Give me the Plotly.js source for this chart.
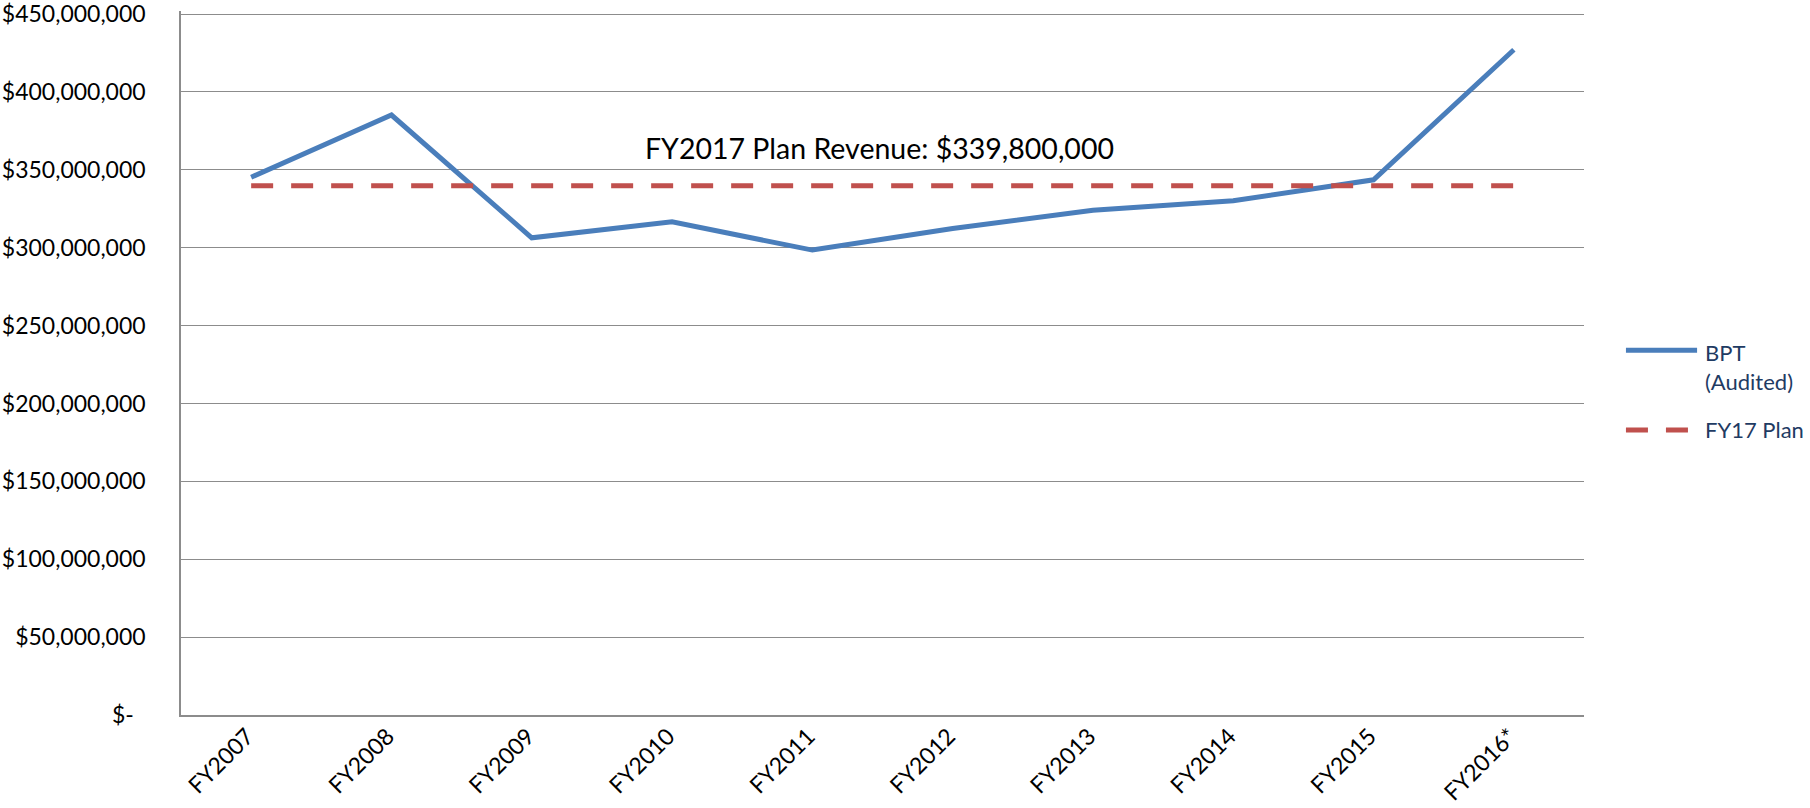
<!DOCTYPE html>
<html>
<head>
<meta charset="utf-8">
<script src="https://cdn.plot.ly/plotly-3.0.1.min.js"></script>
<style>
  html, body { margin: 0; padding: 0; background: #ffffff; }
  #chart { width: 1810px; height: 808px; }
</style>
</head>
<body>
<div id="chart"></div>
<script>
// ---- data ----
const categories = ["FY2007", "FY2008", "FY2009", "FY2010", "FY2011", "FY2012", "FY2013", "FY2014", "FY2015", "FY2016*"];
const bptAudited = [345300000, 385200000, 306400000, 316600000, 298500000, 312400000, 324000000, 330200000, 343600000, 427100000];
const fy17PlanValue = 339800000;
const fy17Plan = categories.map(() => fy17PlanValue);
const seriesNames = ["BPT<br>(Audited)", "FY17 Plan"];
const yTickVals = [0, 50000000, 100000000, 150000000, 200000000, 250000000, 300000000, 350000000, 400000000, 450000000];
const yTickText = ["$-  ", "$50,000,000", "$100,000,000", "$150,000,000", "$200,000,000", "$250,000,000", "$300,000,000", "$350,000,000", "$400,000,000", "$450,000,000"];
const annotationText = "FY2017 Plan Revenue: $339,800,000";

const FONT = "Lato, 'Open Sans', 'Noto Sans', sans-serif";
const BLUE = "#4A7EBB";
const RED = "#C0504D";
const DASH = "22px,18px";
const LEGEND_TEXT = "#1F3B63";

const traces = [
  {
    type: "scatter", mode: "lines", name: seriesNames[0],
    x: categories, y: bptAudited,
    line: { color: BLUE, width: 5 }
  },
  {
    type: "scatter", mode: "lines", name: seriesNames[1],
    x: categories, y: fy17Plan,
    line: { color: RED, width: 5, dash: DASH }
  }
];

// legend drawn as shapes + texts (paper coordinates) to match long sample lines
const legendShapes = [
  { type: "line", xref: "paper", yref: "paper", x0: 1.0299, x1: 1.0806, y0: 0.5180, y1: 0.5180,
    line: { color: BLUE, width: 5 } },
  { type: "line", xref: "paper", yref: "paper", x0: 1.0299, x1: 1.0806, y0: 0.4050, y1: 0.4050,
    line: { color: RED, width: 5, dash: DASH } }
];
const legendTexts = [
  { xref: "paper", yref: "paper", x: 1.0848, y: 0.494, xanchor: "left", yanchor: "middle", align: "left",
    text: seriesNames[0], showarrow: false, font: { family: FONT, size: 22, color: LEGEND_TEXT } },
  { xref: "paper", yref: "paper", x: 1.0848, y: 0.4050, xanchor: "left", yanchor: "middle", align: "left",
    text: seriesNames[1], showarrow: false, font: { family: FONT, size: 22, color: LEGEND_TEXT } }
];

const layout = {
  width: 1810, height: 808,
  margin: { l: 181, r: 226, t: 11, b: 93 },
  paper_bgcolor: "#ffffff", plot_bgcolor: "#ffffff",
  font: { family: FONT, color: "#000000", size: 23 },
  showlegend: false,
  xaxis: {
    type: "category", range: [-0.5, 9.5],
    showgrid: false, zeroline: false,
    showline: true, linecolor: "#8C8C8C", linewidth: 1.5,
    ticks: "", tickangle: -45,
    tickfont: { family: FONT, size: 23, color: "#000000" },
    ticklabelshift: -4, ticklabelstandoff: -3
  },
  yaxis: {
    range: [0, 452000000],
    tickvals: yTickVals, ticktext: yTickText,
    showgrid: true, gridcolor: "#8C8C8C", gridwidth: 1.3,
    zeroline: false,
    showline: true, linecolor: "#8C8C8C", linewidth: 1.5,
    ticks: "", ticklabelstandoff: 29, ticklabeloverflow: "allow",
    tickfont: { family: FONT, size: 23, color: "#000000" }
  },
  shapes: legendShapes,
  annotations: [
    {
      xref: "paper", yref: "paper", x: 0.498, y: 0.805,
      xanchor: "center", yanchor: "middle",
      text: annotationText, showarrow: false,
      font: { family: FONT, size: 28.5, color: "#000000" }
    }
  ].concat(legendTexts)
};

Plotly.newPlot("chart", traces, layout, { displayModeBar: false, responsive: false });
</script>
</body>
</html>
